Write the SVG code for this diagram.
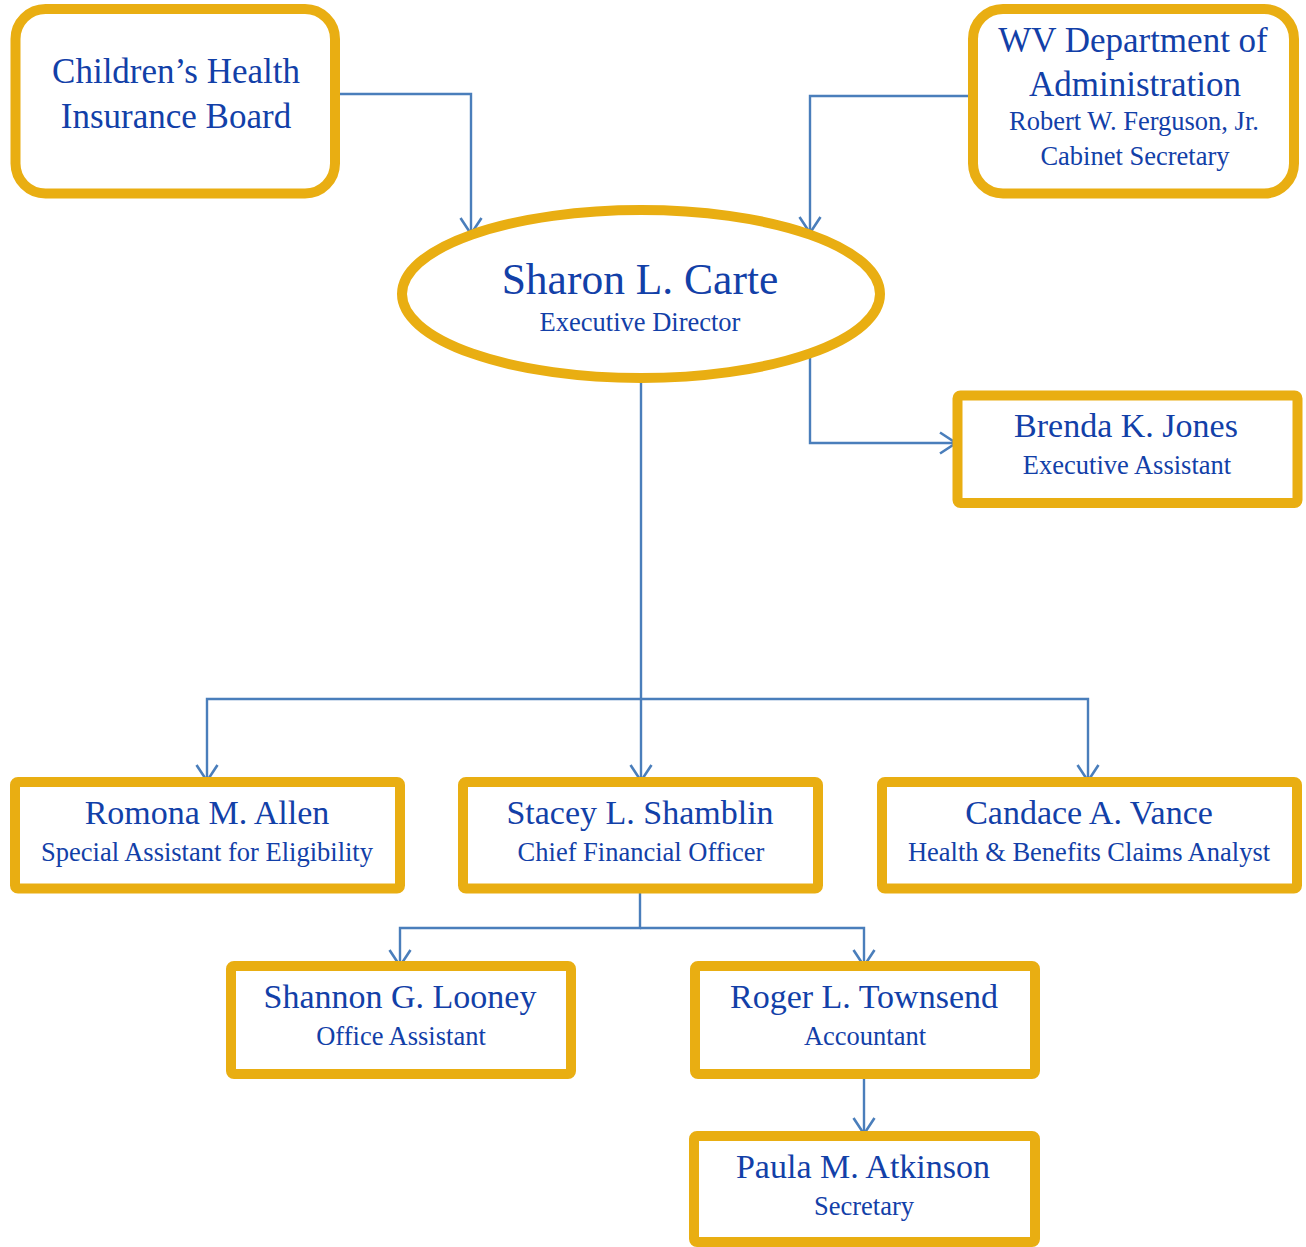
<svg xmlns="http://www.w3.org/2000/svg" width="1306" height="1247" viewBox="0 0 1306 1247">
<style>
.box{fill:#fff;stroke:#E9AE12;stroke-width:10}
.t{font-family:"Liberation Serif","Times New Roman",serif;fill:#1240a8;text-anchor:middle}
.n{font-size:34px}
.s{font-size:26.5px}
.h{font-size:35px}
.c{fill:none;stroke:#4A7EBB;stroke-width:2.4}
</style>
<defs>
<marker id="ar" markerUnits="userSpaceOnUse" markerWidth="24" markerHeight="28" viewBox="-20 -14 24 28" refX="0" refY="0" orient="auto">
<path d="M-16,-10.5 L0,0 L-16,10.5" fill="none" stroke="#4A7EBB" stroke-width="2.6"/>
</marker>
</defs>
<rect width="1306" height="1247" fill="#fff"/>
<g id="connectors">
<path class="c" d="M340,94 H471 V234" marker-end="url(#ar)"/>
<path class="c" d="M973,96 H810 V233" marker-end="url(#ar)"/>
<path class="c" d="M810,355 V443 H956" marker-end="url(#ar)"/>
<path class="c" d="M641,379 V781" marker-end="url(#ar)"/>
<path class="c" d="M641,699 H207 V781" marker-end="url(#ar)"/>
<path class="c" d="M641,699 H1088 V781" marker-end="url(#ar)"/>
<path class="c" d="M640,888 V928 H400 V966" marker-end="url(#ar)"/>
<path class="c" d="M640,928 H864 V966" marker-end="url(#ar)"/>
<path class="c" d="M864,1074 V1134" marker-end="url(#ar)"/>
</g>
<g id="chib">
<rect class="box" x="15.5" y="9" width="319.5" height="184.5" rx="30"/>
<text class="t h" x="176" y="83">Children’s Health</text>
<text class="t h" x="176" y="128">Insurance Board</text>
</g>
<g id="wvdoa">
<rect class="box" x="973" y="9" width="321" height="184.5" rx="30"/>
<text class="t h" x="1133" y="52">WV Department of</text>
<text class="t h" x="1135" y="96">Administration</text>
<text class="t s" x="1134" y="130">Robert W. Ferguson, Jr.</text>
<text class="t s" x="1135" y="165">Cabinet Secretary</text>
</g>
<g id="carte">
<ellipse class="box" cx="641" cy="294" rx="239" ry="84"/>
<text class="t" x="640" y="294" font-size="43.5px">Sharon L. Carte</text>
<text class="t s" x="640" y="331">Executive Director</text>
</g>
<g id="jones">
<rect class="box" x="957.5" y="395.5" width="340" height="107.5" rx="3"/>
<text class="t n" x="1126" y="437">Brenda K. Jones</text>
<text class="t s" x="1127" y="474">Executive Assistant</text>
</g>
<g id="allen">
<rect class="box" x="15" y="782" width="385" height="106.5" rx="3"/>
<text class="t n" x="207" y="824">Romona M. Allen</text>
<text class="t s" x="207" y="861">Special Assistant for Eligibility</text>
</g>
<g id="shamblin">
<rect class="box" x="463" y="782" width="355" height="106.5" rx="3"/>
<text class="t n" x="640" y="824">Stacey L. Shamblin</text>
<text class="t s" x="641" y="861">Chief Financial Officer</text>
</g>
<g id="vance">
<rect class="box" x="882" y="782" width="415" height="106.5" rx="3"/>
<text class="t n" x="1089" y="824">Candace A. Vance</text>
<text class="t s" x="1089" y="861">Health &amp; Benefits Claims Analyst</text>
</g>
<g id="looney">
<rect class="box" x="231" y="966" width="340" height="108" rx="3"/>
<text class="t n" x="400" y="1008">Shannon G. Looney</text>
<text class="t s" x="401" y="1045">Office Assistant</text>
</g>
<g id="townsend">
<rect class="box" x="695" y="966" width="340" height="108" rx="3"/>
<text class="t n" x="864" y="1008">Roger L. Townsend</text>
<text class="t s" x="865" y="1045">Accountant</text>
</g>
<g id="atkinson">
<rect class="box" x="694" y="1136" width="341" height="106" rx="3"/>
<text class="t n" x="863" y="1178">Paula M. Atkinson</text>
<text class="t s" x="864" y="1215">Secretary</text>
</g>
</svg>
